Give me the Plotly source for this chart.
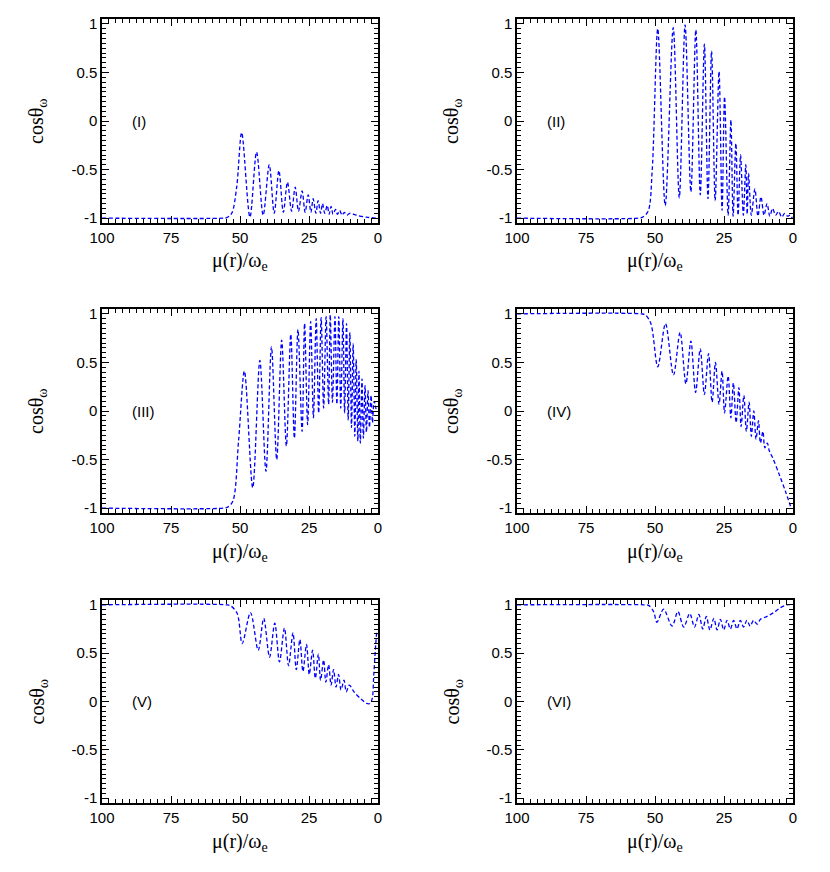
import plotly.graph_objects as go
from plotly.subplots import make_subplots


# values, listed from large mu(r)/omega_e down to zero
x_i = [100, 56, 54.8, 53.0, 51.2, 49.4, 46.4, 44.0, 41.6, 39.4, 37.6, 35.9, 34.3, 32.8, 31.3,
       30.0, 28.8, 27.5, 26.4, 25.3, 24.3, 23.5, 22.5, 21.7, 20.8, 20.1, 19.3, 18.4, 17.7,
       17.0, 16.3, 15.4, 14.7, 13.9, 13.0, 12.2, 11.3, 10.2, 7.8, 4.2, 0.4]
y_i = [-1.0, -1.0, -0.995, -0.95, -0.68, -0.12, -0.99, -0.32, -0.97, -0.45, -0.95, -0.51, -0.94,
       -0.63, -0.93, -0.68, -0.93, -0.72, -0.94, -0.76, -0.94, -0.80, -0.95, -0.82, -0.95, -0.85,
       -0.95, -0.87, -0.96, -0.88, -0.96, -0.91, -0.96, -0.92, -0.97, -0.94, -0.97, -0.95, -0.97,
       -0.99, -1.0]

x_ii = [100, 56, 54.5, 52.5, 51.0, 49.0, 46.3, 43.4, 41.2, 39.1, 37.0, 35.2, 33.6, 32.1, 30.8,
        29.5, 28.2, 26.8, 25.7, 24.8, 23.5, 22.5, 21.7, 20.7, 19.9, 19.0, 18.0, 17.1, 16.6, 16.1,
        15.1, 13.8, 12.7, 11.6, 10.5, 9.4, 8.4, 7.4, 6.3, 5.2, 4.1, 3.0, 2.0, 1.0, 0.3]
y_ii = [-1.0, -1.0, -0.99, -0.93, -0.5, 0.95, -0.87, 0.96, -0.79, 0.99, -0.73, 0.94, -0.76, 0.79,
        -0.80, 0.72, -0.82, 0.51, -0.92, 0.25, -0.97, 0.01, -0.98, -0.23, -0.97, -0.35, -0.97,
        -0.45, -0.96, -0.54, -0.97, -0.70, -0.98, -0.78, -0.97, -0.85, -0.98, -0.90, -0.97, -0.93,
        -0.99, -0.95, -0.98, -0.97, -1.0]

x_iii = [100, 56, 54.5, 52.6, 50.5, 48.4, 45.4, 42.8, 40.6, 38.6, 36.7, 34.9, 33.2, 31.6, 30.3,
         29.0, 27.5, 26.6, 25.5, 24.4, 23.4, 22.4, 21.5, 20.6, 19.7, 18.8, 17.9, 17.3, 16.5,
         15.6, 14.9, 14.2, 13.5, 12.7, 12.1, 11.4, 10.8, 10.2, 9.6, 9.0, 8.4, 7.9, 7.3, 6.9, 6.4,
         5.8, 5.3, 4.7, 4.2, 3.6, 3.1, 2.5, 2.0, 1.4, 0.7]
y_iii = [-1.0, -1.0, -0.99, -0.93, -0.3, 0.41, -0.79, 0.52, -0.62, 0.66, -0.50, 0.73, -0.36, 0.79,
         -0.28, 0.84, -0.21, 0.90, -0.14, 0.92, -0.07, 0.95, -0.02, 0.96, 0.03, 0.97, 0.07, 0.99,
         0.09, 0.97, 0.07, 0.97, 0.03, 0.95, -0.02, 0.90, -0.09, 0.81, -0.17, 0.69, -0.26, 0.53,
         -0.31, 0.41, -0.33, 0.33, -0.28, 0.26, -0.22, 0.21, -0.17, 0.16, -0.12, 0.10, 0.02]

x_iv = [100, 55, 53.5, 51.5, 49.0, 46.2, 43.3, 40.9, 38.8, 37.0, 35.3, 33.6, 32.1, 30.6, 29.3,
        28.1, 26.8, 25.7, 24.8, 23.5, 22.5, 21.6, 20.6, 19.6, 18.8, 17.8, 16.9, 15.9, 15.1, 14.2,
        13.4, 12.5, 11.8, 10.9, 10.2, 9.3, 8.6, 7.4, 4.9, 2.7, 0.9]
y_iv = [1.0, 1.0, 0.99, 0.9, 0.455, 0.90, 0.37, 0.81, 0.28, 0.72, 0.19, 0.64, 0.17, 0.59, 0.09,
        0.50, 0.07, 0.41, -0.02, 0.36, -0.07, 0.29, -0.12, 0.24, -0.16, 0.16, -0.21, 0.09, -0.26,
        0.0, -0.29, -0.10, -0.33, -0.21, -0.38, -0.33, -0.41, -0.48, -0.66, -0.83, -0.98]

x_v = [100, 55, 53.4, 51.0, 49.2, 46.2, 43.4, 41.4, 39.3, 37.4, 35.7, 33.9, 32.4, 30.8, 29.6,
       28.3, 27.2, 25.9, 24.9, 23.7, 22.7, 21.6, 20.8, 19.7, 18.9, 17.9, 17.0, 16.1, 15.2, 14.3,
       13.4, 12.3, 11.5, 10.4, 8.7, 6.3, 4.1, 2.9, 2.1, 1.5, 0.8, 0.5]
y_v = [1.0, 1.0, 0.99, 0.91, 0.60, 0.92, 0.53, 0.86, 0.46, 0.81, 0.41, 0.76, 0.37, 0.71, 0.33,
       0.64, 0.31, 0.59, 0.28, 0.53, 0.24, 0.49, 0.22, 0.43, 0.20, 0.38, 0.17, 0.33, 0.15, 0.28,
       0.12, 0.22, 0.10, 0.17, 0.10, 0.03, -0.02, -0.02, 0.03, 0.29, 0.60, 0.71]

x_vi = [100, 54, 52.3, 50.5, 49.3, 46.9, 43.8, 41.7, 39.6, 37.4, 35.7, 34.1, 32.7, 31.4, 30.1,
        28.7, 27.5, 26.3, 25.1, 23.9, 22.7, 21.5, 20.3, 19.1, 17.9, 16.7, 15.5, 14.3, 13.0,
        11.8, 9.4, 7.0, 4.6, 2.2, 0.4]
y_vi = [1.0, 1.0, 0.995, 0.93, 0.82, 0.955, 0.78, 0.93, 0.77, 0.91, 0.77, 0.90, 0.75, 0.88, 0.74,
        0.86, 0.74, 0.85, 0.74, 0.84, 0.75, 0.84, 0.75, 0.84, 0.77, 0.84, 0.78, 0.84, 0.80, 0.85,
        0.88, 0.92, 0.97, 1.0, 1.0]

panel_labels = ["(I)", "(II)", "(III)", "(IV)", "(V)", "(VI)"]
x_ticks = [100, 75, 50, 25, 0]
y_ticks = [-1, -0.5, 0, 0.5, 1]
y_tick_text = ["-1", "-0.5", "0", "0.5", "1"]

series = [(x_i, y_i), (x_ii, y_ii), (x_iii, y_iii), (x_iv, y_iv), (x_v, y_v), (x_vi, y_vi)]

# the page body adds an 8px margin, so the figure is drawn 8px smaller and shifted
W, H = 822, 864
col_px = [(94, 370), (509, 785)]
row_px = [(11, 215), (301, 505), (592, 795)]

fig = make_subplots(rows=3, cols=2)

for k, (xs, ys) in enumerate(series):
    r, c = k // 2 + 1, k % 2 + 1
    fig.add_trace(
        go.Scatter(x=xs, y=ys, mode="lines",
                   line=dict(color="#0000ff", width=1.3, dash="4px,2.5px",
                             shape="spline", smoothing=0.9),
                   showlegend=False),
        row=r, col=c,
    )
    x0, x1 = col_px[c - 1]
    y0, y1 = row_px[r - 1]
    fig.update_xaxes(domain=[x0 / W, x1 / W], row=r, col=c)
    fig.update_yaxes(domain=[1 - y1 / H, 1 - y0 / H], row=r, col=c)

    xref = "x" if k == 0 else f"x{k + 1}"
    yref = "y" if k == 0 else f"y{k + 1}"
    fig.add_annotation(x=90, y=0, xref=xref, yref=yref, text=panel_labels[k],
                       showarrow=False, xanchor="left", yanchor="middle",
                       font=dict(family="Liberation Sans, Arial", size=15, color="black"))
    # axis titles
    fig.add_annotation(x=(x0 + x1) / 2 / W, y=1 - (y1 + 39) / H, xref="paper", yref="paper",
                       text="μ(r)/ω<sub>e</sub>", showarrow=False,
                       xanchor="center", yanchor="middle",
                       font=dict(family="Liberation Serif, Times New Roman", size=20, color="black"))
    fig.add_annotation(x=(x0 - 64) / W, y=1 - (y0 + y1) / 2 / H, xref="paper", yref="paper",
                       text="cosθ<sub>ω</sub>", showarrow=False, textangle=-90,
                       xanchor="center", yanchor="middle",
                       font=dict(family="Liberation Serif, Times New Roman", size=20, color="black"))

fig.update_xaxes(
    range=[100, 0], tickmode="array", tickvals=x_ticks, ticks="inside", ticklen=7, tickwidth=1,
    tickcolor="black", showline=True, linecolor="black", linewidth=1.5, mirror="allticks",
    showgrid=False, zeroline=False, automargin=False,
    tickfont=dict(family="Liberation Sans, Arial", size=15, color="black"),
    minor=dict(tickmode="linear", tick0=0, dtick=2.5, ticks="inside", ticklen=4,
               tickwidth=1, tickcolor="black", showgrid=False),
)
fig.update_yaxes(
    range=[-1.05, 1.05], tickmode="array", tickvals=y_ticks, ticktext=y_tick_text,
    ticks="inside", ticklen=7, tickwidth=1, tickcolor="black", showline=True,
    linecolor="black", linewidth=1.5, mirror="allticks", showgrid=False, zeroline=False,
    automargin=False,
    tickfont=dict(family="Liberation Sans, Arial", size=15, color="black"),
    minor=dict(tickmode="linear", tick0=0, dtick=0.05, ticks="inside", ticklen=4,
               tickwidth=1, tickcolor="black", showgrid=False),
)

fig.update_layout(
    width=W, height=H,
    margin=dict(l=0, r=0, t=0, b=0, autoexpand=False),
    plot_bgcolor="white", paper_bgcolor="white",
)

fig.write_html("out.html")
